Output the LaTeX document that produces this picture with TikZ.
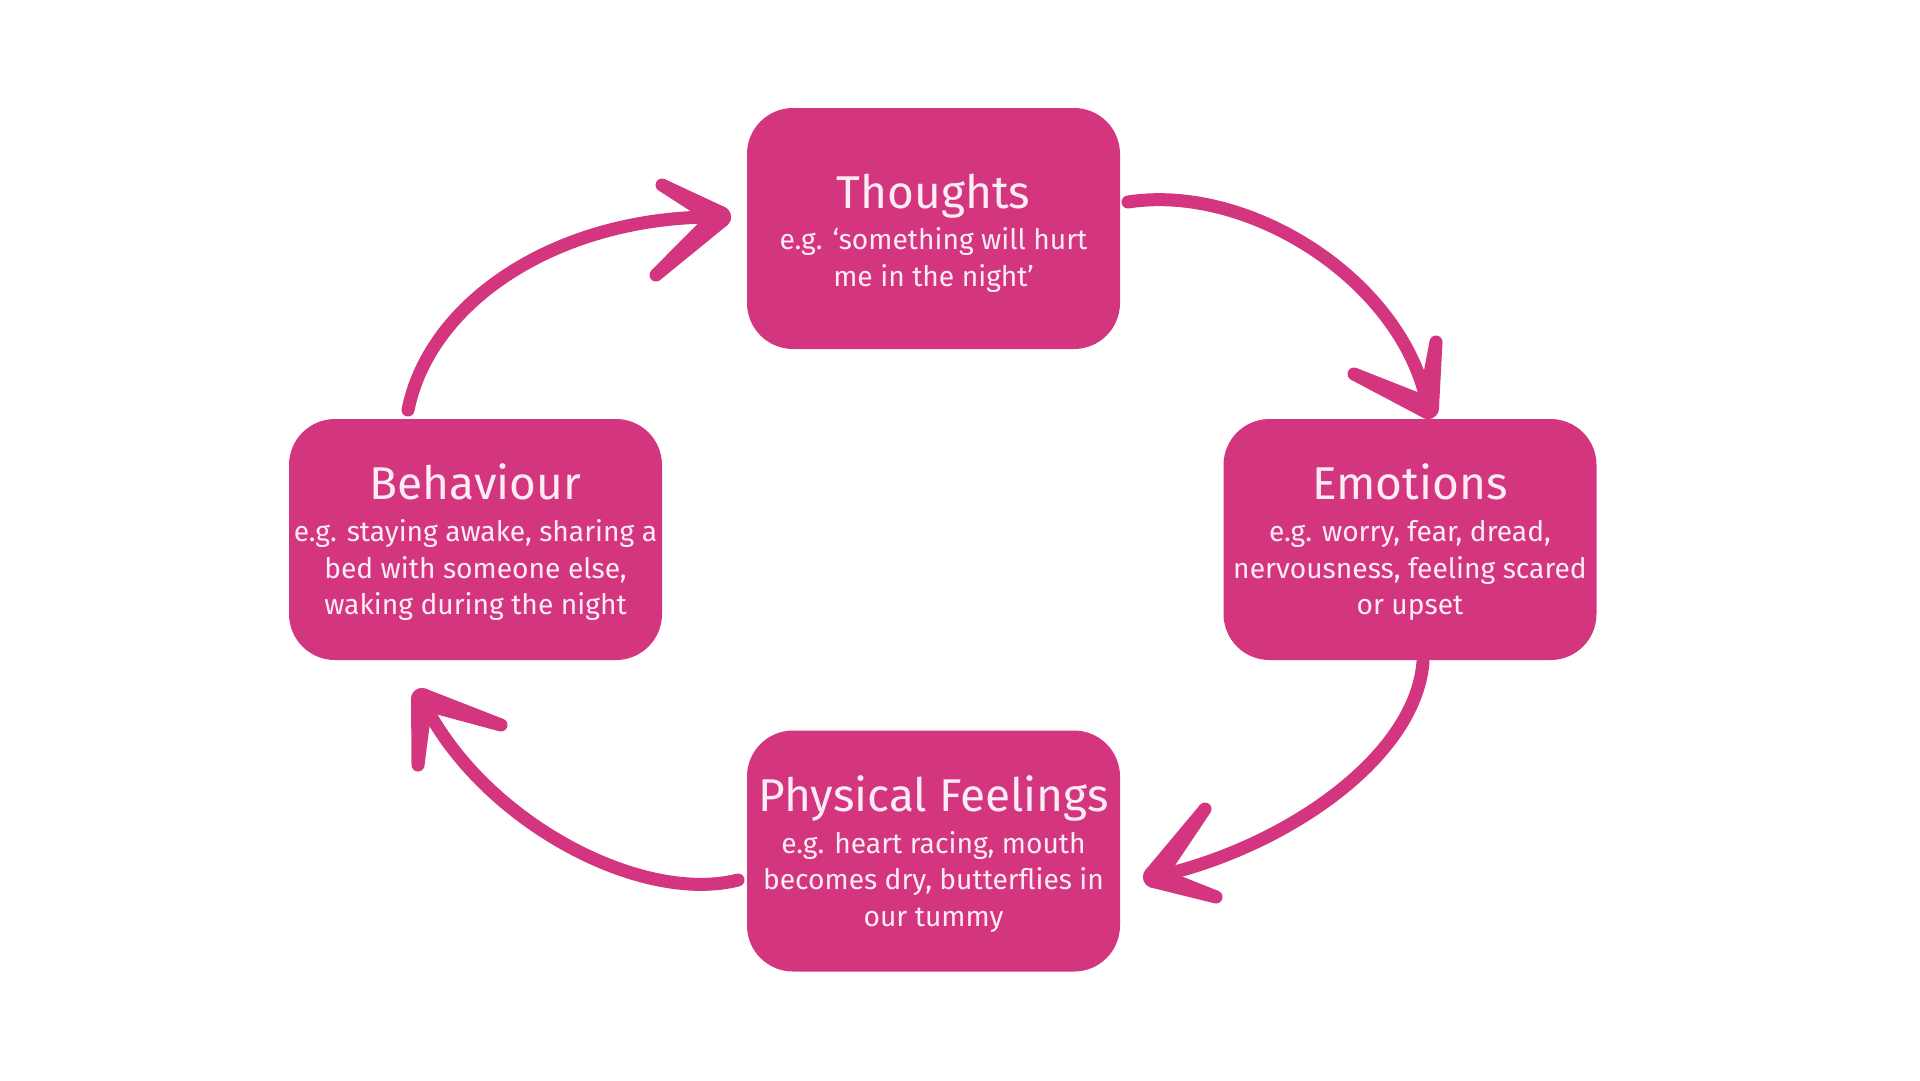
\documentclass[tikz,border=0pt]{standalone}
\usepackage{fontspec}
\setmainfont{Fira Sans}
\usetikzlibrary{calc}
\definecolor{pk}{RGB}{211,54,126}
\definecolor{txt}{RGB}{253,236,244}
\tikzset{
  box/.style={fill=pk, rounded corners=46pt, minimum width=373pt, minimum height=241pt, inner sep=0pt},
  lbl/.style={text=txt, align=center, inner sep=0pt, font=\fontsize{28.2}{36.7}\selectfont},
  shaft/.style={draw=pk, line width=13pt, line cap=round},
}
\newcommand{\ttl}[1]{{\fontsize{46}{44}\selectfont #1}\\[5pt]}
% tapered barb from tip #1 to end #2
\newcommand{\barbx}[2]{%
  \fill[pk] ($(#1)!11pt!90:(#2)$) -- ($(#2)!6.5pt!-90:(#1)$) -- ($(#2)!6.5pt!90:(#1)$) -- ($(#1)!11pt!-90:(#2)$) -- cycle;
  \fill[pk] (#1) circle (11pt);
  \fill[pk] (#2) circle (6.5pt);}
\begin{document}
\begin{tikzpicture}[x=1pt,y=-1pt]
\useasboundingbox[fill=white] (0,0) rectangle (1920,1080);
\node[box] (th) at (933.5,228.5) {};
\node[box] (be) at (475.5,539.5) {};
\node[box] (em) at (1410,539.5) {};
\node[box] (ph) at (933.5,851) {};
\node[lbl] (thl) at ([yshift=-4.5pt]th.center) {\ttl{Thoughts}e.g. ‘something will hurt\\me in the night’};
\node[lbl] (bel) at ([yshift=-3pt]be.center) {\ttl{Behaviour}e.g. staying awake, sharing a\\bed with someone else,\\waking during the night};
\node[lbl] (eml) at ([yshift=-3pt]em.center) {\ttl{Emotions}e.g. worry, fear, dread,\\nervousness, feeling scared\\or upset};
\node[lbl] (phl) at ([yshift=-3pt]ph.center) {\ttl{Physical Feelings}e.g. heart racing, mouth\\becomes dry, butterflies in\\our tummy};
% arrow 1: thoughts -> emotions
\coordinate (a1s) at (1128,202);
\coordinate (a1t) at (1428,408);
\coordinate (a1l) at (1354,374);
\coordinate (a1r) at (1436,342);
\draw[shaft] (a1s) .. controls (1250,183) and (1405,282) .. (a1t);
\barbx{a1t}{a1l}\barbx{a1t}{a1r}
% arrow 2: behaviour -> thoughts
\coordinate (a2s) at (408,410);
\coordinate (a2t) at (720,217);
\coordinate (a2u) at (662,185);
\coordinate (a2d) at (656,275);
\draw[shaft] (a2s) .. controls (430,300) and (560,215) .. (a2t);
\barbx{a2t}{a2u}\barbx{a2t}{a2d}
% arrow 3: emotions -> physical
\coordinate (a3s) at (1423,662);
\coordinate (a3t) at (1154,877);
\coordinate (a3u) at (1205,809);
\coordinate (a3d) at (1216,897);
\draw[shaft] (a3s) .. controls (1415,760) and (1280,850) .. (a3t);
\barbx{a3t}{a3u}\barbx{a3t}{a3d}
% arrow 4: physical -> behaviour
\coordinate (a4s) at (738,880);
\coordinate (a4t) at (422,699);
\coordinate (a4l) at (418,765);
\coordinate (a4r) at (501,725);
\draw[shaft] (a4s) .. controls (640,905) and (480,820) .. (a4t);
\barbx{a4t}{a4l}\barbx{a4t}{a4r}
\end{tikzpicture}
\end{document}
